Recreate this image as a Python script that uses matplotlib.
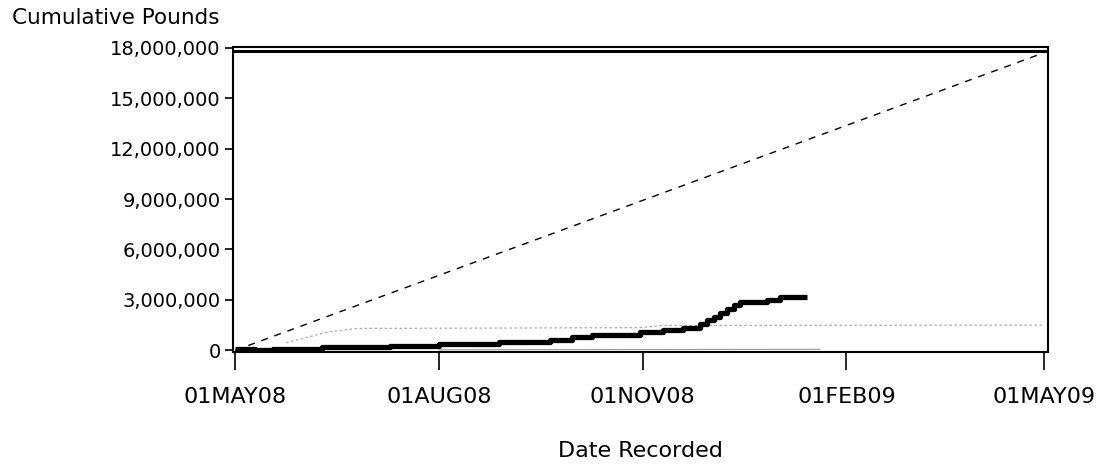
import numpy as np
import pandas as pd
import matplotlib
matplotlib.use("Agg")
import matplotlib.pyplot as plt
from matplotlib.ticker import FuncFormatter

# cumulative landings (pounds, millions)
landing_dates = ["2008-05-01", "2008-05-10", "2008-05-18", "2008-06-09", "2008-07-10",
                 "2008-08-01", "2008-08-28", "2008-09-20", "2008-09-30", "2008-10-09",
                 "2008-10-31", "2008-11-10", "2008-11-19", "2008-11-27", "2008-11-30",
                 "2008-12-03", "2008-12-06", "2008-12-09", "2008-12-12", "2008-12-15",
                 "2008-12-27", "2009-01-02", "2009-01-14"]
landing_mlbs = [0.08, 0.03, 0.06, 0.20, 0.25, 0.35, 0.50, 0.60, 0.77, 0.90,
                1.08, 1.19, 1.35, 1.55, 1.78, 2.0, 2.22, 2.45, 2.68, 2.90,
                3.02, 3.17, 3.17]

# previous season (grey dotted)
prev_dates = ["2008-05-24", "2008-06-12", "2008-06-25", "2008-10-31", "2008-11-10", "2009-05-01"]
prev_mlbs = [0.45, 1.1, 1.3, 1.35, 1.48, 1.5]

# small second series near zero
low_dates = ["2008-08-01", "2009-01-20"]
low_mlbs = [0.03, 0.06]

quota_mlbs = 17.8
proj_dates = ["2008-05-01", "2009-05-01"]
proj_mlbs = [0.0, 17.7]

plt.rcParams['font.family'] = ['DejaVu Sans']
fig = plt.figure(figsize=(11.01, 4.65), dpi=100)
ax = fig.add_axes([233 / 1101, 1 - 352 / 465, (1048 - 233) / 1101, (352 - 47) / 465])

to_d = lambda s: pd.to_datetime(s)
ax.axhline(quota_mlbs * 1e6, color='black', linewidth=2.2)
ax.plot(to_d(proj_dates), np.array(proj_mlbs) * 1e6, color='black',
        linewidth=1.0, dashes=(5, 5))
ax.plot(to_d(prev_dates), np.array(prev_mlbs) * 1e6, color='#aaaaaa',
        linewidth=0.9, dashes=(2, 2))
ax.plot(to_d(low_dates), np.array(low_mlbs) * 1e6, color='#999999', linewidth=0.8)
ax.plot(to_d(landing_dates), np.array(landing_mlbs) * 1e6, color='black',
        linewidth=3.8, drawstyle='steps-post', solid_capstyle='butt')

ax.set_xlim(pd.Timestamp("2008-04-30"), pd.Timestamp("2009-05-03"))
ax.set_ylim(-0.1e6, 18.05e6)
ax.set_yticks(np.arange(0, 18.1e6, 3e6))
ax.yaxis.set_major_formatter(FuncFormatter(lambda v, p: f"{int(round(v)):,}"))
xt = pd.to_datetime(["2008-05-01", "2008-08-01", "2008-11-01", "2009-02-01", "2009-05-01"])
ax.set_xticks(xt)
ax.set_xticklabels([d.strftime("%d%b%y").upper() for d in xt])

ax.tick_params(axis='x', direction='out', length=13, width=1.2, pad=12, labelsize=16)
ax.tick_params(axis='y', direction='out', length=6, width=1.2, pad=3, labelsize=14)
for s in ax.spines.values():
    s.set_linewidth(1.5)

fig.text(12 / 1101, 1 - 8 / 465, "Cumulative Pounds", ha='left', va='top', fontsize=15.5)
fig.text(640 / 1101, 1 - 451 / 465, "Date Recorded", ha='center', va='center', fontsize=16)

fig.savefig("out.png", dpi=100)
